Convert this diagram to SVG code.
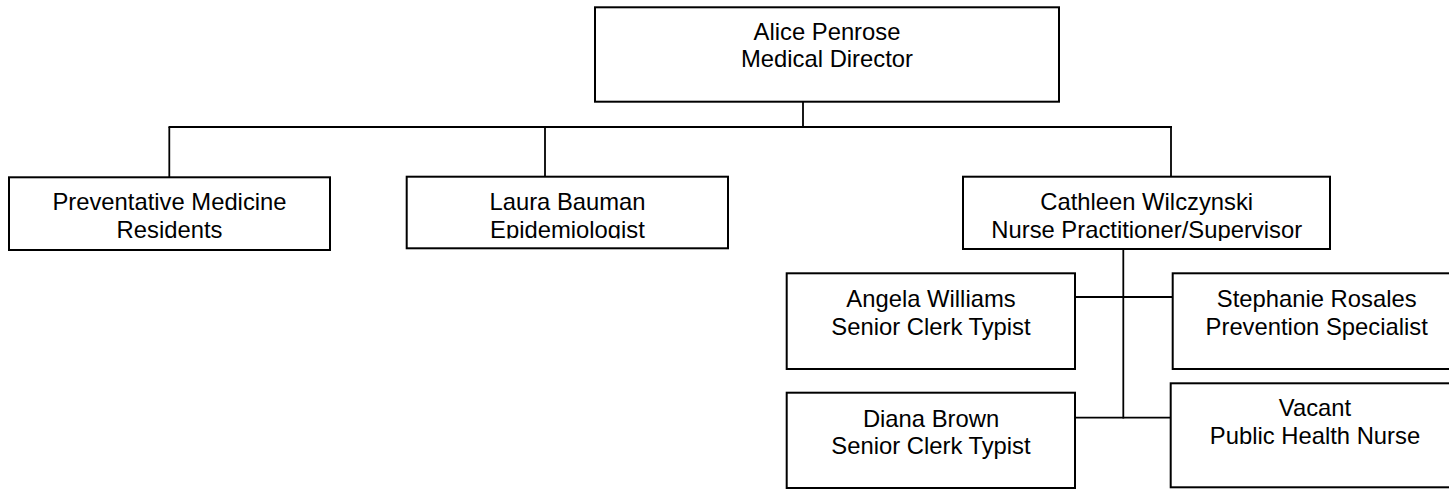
<svg xmlns="http://www.w3.org/2000/svg" width="1449" height="489" viewBox="0 0 1449 489">
<style>
  .box { fill: #ffffff; stroke: #000000; stroke-width: 2; }
  .lbl { font-family: "Liberation Sans", Arial, sans-serif; font-size: 23.8px; fill: #000000; text-anchor: middle; }
  .conn line { stroke: #000000; stroke-width: 1.8; }
</style>
<defs>
  <clipPath id="clipLaura"><rect x="406" y="176" width="323" height="62.5"/></clipPath>
  <clipPath id="clipCath"><rect x="962" y="176" width="369" height="65"/></clipPath>
</defs>
<rect x="0" y="0" width="1449" height="489" fill="#ffffff"/>
<g id="connectors" class="conn">
  <line x1="803" y1="101.7" x2="803" y2="127"/>
  <line x1="168.5" y1="127" x2="1172" y2="127"/>
  <line x1="169.3" y1="127" x2="169.3" y2="177.3"/>
  <line x1="545" y1="127" x2="545" y2="176.7"/>
  <line x1="1171" y1="127" x2="1171" y2="176.7"/>
  <line x1="1123.3" y1="249" x2="1123.3" y2="418.5"/>
  <line x1="1075" y1="297" x2="1172.7" y2="297"/>
  <line x1="1075" y1="417.7" x2="1170.7" y2="417.7"/>
</g>
<g id="node-alice">
  <rect class="box" x="595" y="7.3" width="464" height="94.4"/>
  <text class="lbl" x="827" y="40">Alice Penrose</text>
  <text class="lbl" x="827" y="67">Medical Director</text>
</g>
<g id="node-residents">
  <rect class="box" x="9" y="177.3" width="321" height="72.7"/>
  <text class="lbl" x="169.5" y="210">Preventative Medicine</text>
  <text class="lbl" x="169.5" y="237.5">Residents</text>
</g>
<g id="node-laura">
  <rect class="box" x="406.7" y="176.7" width="321.3" height="71.6"/>
  <g clip-path="url(#clipLaura)">
    <text class="lbl" x="567.5" y="210">Laura Bauman</text>
    <text class="lbl" x="567.5" y="237.5">Epidemiologist</text>
  </g>
</g>
<g id="node-cathleen">
  <rect class="box" x="963" y="176.7" width="367" height="72.3"/>
  <g clip-path="url(#clipCath)">
    <text class="lbl" x="1146.7" y="210">Cathleen Wilczynski</text>
    <text class="lbl" x="1146.7" y="237.5">Nurse Practitioner/Supervisor</text>
  </g>
</g>
<g id="node-angela">
  <rect class="box" x="786.7" y="273.3" width="288.3" height="95.7"/>
  <text class="lbl" x="931" y="306.7">Angela Williams</text>
  <text class="lbl" x="931" y="335">Senior Clerk Typist</text>
</g>
<g id="node-stephanie">
  <rect class="box" x="1172.7" y="273.3" width="288" height="95.7"/>
  <text class="lbl" x="1316.7" y="306.7">Stephanie Rosales</text>
  <text class="lbl" x="1316.7" y="335">Prevention Specialist</text>
</g>
<g id="node-diana">
  <rect class="box" x="786.7" y="392.7" width="288.3" height="95.3"/>
  <text class="lbl" x="931" y="426.5">Diana Brown</text>
  <text class="lbl" x="931" y="454">Senior Clerk Typist</text>
</g>
<g id="node-vacant">
  <rect class="box" x="1170.7" y="383.3" width="290" height="104"/>
  <text class="lbl" x="1315" y="416">Vacant</text>
  <text class="lbl" x="1315" y="444">Public Health Nurse</text>
</g>
</svg>
